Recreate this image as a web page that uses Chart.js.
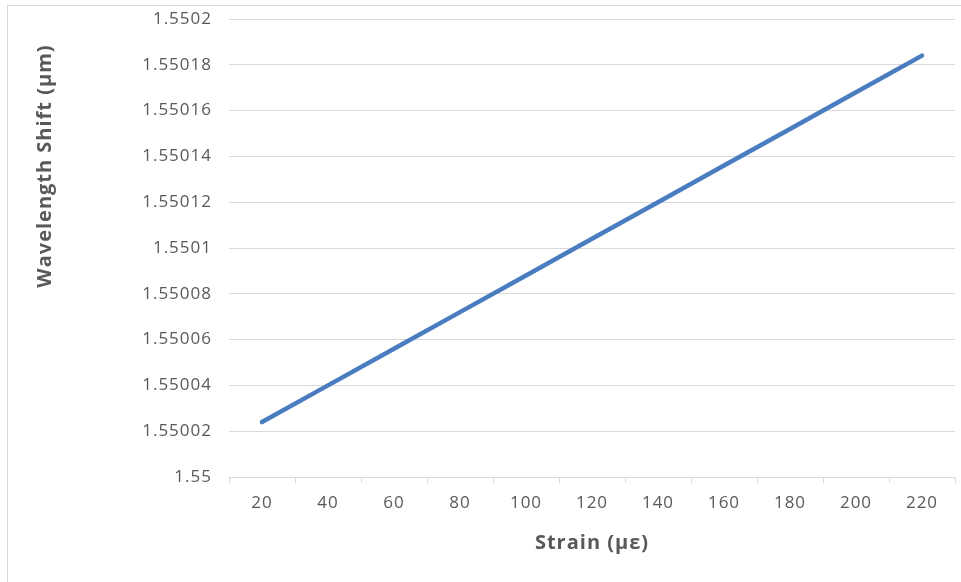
<!DOCTYPE html>
<html>
<head>
<meta charset="utf-8">
<script src="https://cdn.jsdelivr.net/npm/chart.js@4.4.1/dist/chart.umd.min.js"></script>
<style>
  body { margin: 0; background: #fff; }
  #wrap { position: relative; width: 961px; height: 582px; }
  #frame { position: absolute; left: 7px; top: 5px; width: 960px; height: 590px;
           border: 1px solid #d9d9d9; pointer-events: none; }
</style>
</head>
<body>
<div id="wrap">
  <canvas id="myChart" width="961" height="582"></canvas>
  <div id="frame"></div>
</div>
<script>
const strain = ['20', '40', '60', '80', '100', '120', '140', '160', '180', '200', '220'];
const wavelength = [1.550024, 1.55004, 1.550056, 1.550072, 1.550088, 1.550104, 1.55012, 1.550136, 1.550152, 1.550168, 1.550184];
const yTicks = [1.55, 1.55002, 1.55004, 1.55006, 1.55008, 1.5501, 1.55012, 1.55014, 1.55016, 1.55018, 1.5502];

const grey = '#595959';
const gridGrey = '#d9d9d9';

// the original text is a bit spread out, so widen it a touch everywhere
const spacing = {
    id: 'spacing',
    beforeUpdate(chart) { chart.ctx.letterSpacing = '1px'; },
    beforeDraw(chart) { chart.ctx.letterSpacing = '1px'; }
};

// y title sits higher than the plot centre in the original, so draw it by hand
const yTitle = {
    id: 'yTitle',
    afterDraw(chart) {
        const c = chart.ctx;
        c.save();
        c.translate(45, 166);
        c.rotate(-Math.PI / 2);
        c.font = 'bold 20px "Open Sans"';
        c.fillStyle = grey;
        c.textAlign = 'center';
        c.textBaseline = 'middle';
        c.fillText('Wavelength Shift (µm)', 0, 0);
        c.restore();
    }
};

const ctx = document.getElementById('myChart').getContext('2d');

new Chart(ctx, {
    type: 'line',
    data: {
        labels: strain,
        datasets: [{
            data: wavelength,
            borderColor: '#4a7dc0',
            borderWidth: 4.5,
            borderCapStyle: 'round',
            pointRadius: 0,
            tension: 0
        }]
    },
    options: {
        responsive: false,
        animation: false,
        layout: { padding: { left: 0, right: 6, top: 19, bottom: 0 } },
        scales: {
            x: {
                offset: true,
                grid: {
                    offset: true,
                    drawOnChartArea: false,
                    color: gridGrey,
                    tickLength: 6
                },
                border: { color: gridGrey },
                ticks: { color: grey, font: { family: 'Open Sans', size: 17 }, padding: 10 },
                title: {
                    display: true,
                    text: 'Strain (µε)',
                    color: grey,
                    font: { family: 'Open Sans', size: 20, weight: 'bold' },
                    padding: { top: 0, bottom: 27 }
                },
                afterFit(scale) { scale.height = 105; }
            },
            y: {
                min: 1.55,
                max: 1.5502,
                afterBuildTicks(scale) {
                    scale.ticks = yTicks.map(v => ({ value: v }));
                },
                grid: { color: gridGrey, drawTicks: false },
                border: { display: false },
                ticks: {
                    color: grey,
                    font: { family: 'Open Sans', size: 17 },
                    padding: 17,
                    callback: v => parseFloat(Number(v).toFixed(5)).toString()
                },
                afterFit(scale) {
                    scale.width = 229;
                    scale.paddingTop = 0;
                    scale.paddingBottom = 0;
                }
            }
        },
        plugins: {
            legend: { display: false },
            tooltip: { enabled: false }
        }
    },
    plugins: [spacing, yTitle]
});
</script>
</body>
</html>
